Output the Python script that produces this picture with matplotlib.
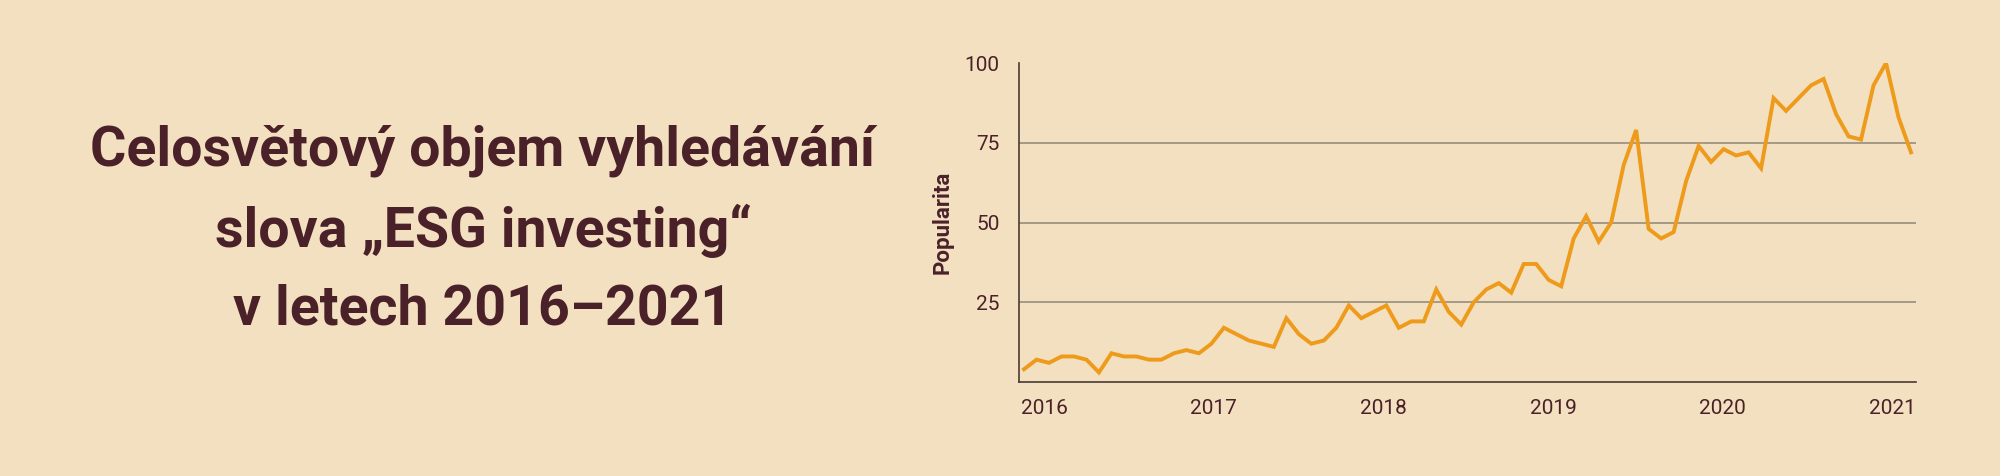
import matplotlib
matplotlib.use("Agg")
import matplotlib.pyplot as plt
import numpy as np

plt.rcParams.update({
    'font.family': ['Roboto', 'DejaVu Sans'],
    'axes.linewidth': 1.2,
})

BG = "#F3E0C1"
DARK = "#4A2129"
LINE = "#EE9A1B"
GRID = "#8E8676"

# monthly Google Trends popularity, Jan 2016 - Dec 2021
popularity = [
    4, 7, 6, 8, 8, 7, 3, 9, 8, 8, 7, 7,
    9, 10, 9, 12, 17, 15, 13, 12, 11, 20, 15, 12,
    13, 17, 24, 20, 22, 24, 17, 19, 19, 29, 22, 18,
    25, 29, 31, 28, 37, 37, 32, 30, 45, 52, 44, 50,
    68, 79, 48, 45, 47, 63, 74, 69, 73, 71, 72, 67,
    89, 85, 89, 93, 95, 84, 77, 76, 93, 100, 83, 72,
]
years = ["2016", "2017", "2018", "2019", "2020", "2021"]
yticks = [25, 50, 75, 100]

title = "Celosvětový objem vyhledávání\nslova „ESG investing“\nv letech 2016–2021"

fig = plt.figure(figsize=(20, 4.76), dpi=100, facecolor=BG)
ax = fig.add_axes([0.5095, 0.1975, 0.958 - 0.5095, 0.8676 - 0.1975])
ax.set_facecolor(BG)

x = np.arange(len(popularity))
ax.plot(x, popularity, color=LINE, linewidth=2.8, solid_joinstyle="miter", zorder=3)

ax.set_xlim(-0.4, 71.4)
ax.set_ylim(0, 100)

for v in yticks[:-1]:
    ax.axhline(v, color=GRID, linewidth=1.1, zorder=1)

ax.set_yticks(yticks)
ax.set_yticklabels([str(v) for v in yticks])
ax.set_xticks(np.linspace(1.6, 69.5, len(years)))
ax.set_xticklabels(years)
ax.tick_params(axis="both", length=0, labelsize=15, colors=DARK)
ax.tick_params(axis="y", pad=14)
ax.tick_params(axis="x", pad=12)

for s in ["top", "right"]:
    ax.spines[s].set_visible(False)
for s in ["left", "bottom"]:
    ax.spines[s].set_color("#4A3A34")

ax.set_ylabel("Popularita", fontsize=16, fontweight="bold", color=DARK, labelpad=8)

fig.text(0.2415, 0.517, title, ha="center", va="center", multialignment="center",
         fontsize=40, fontweight="bold", color=DARK, linespacing=1.62)

fig.savefig("out.png", dpi=100, facecolor=BG)
